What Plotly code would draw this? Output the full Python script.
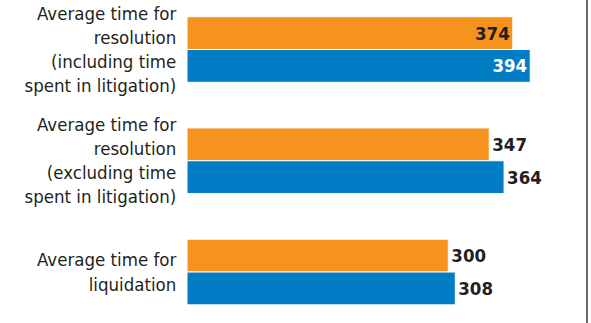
import plotly.graph_objects as go

categories = [
    "Average time for<br>resolution<br>(including time<br>spent in litigation)",
    "Average time for<br>resolution<br>(excluding time<br>spent in litigation)",
    "Average time for<br>liquidation",
]
series_a = [374, 347, 300]
series_b = [394, 364, 308]
text_pos_a = ["inside", "outside", "outside"]
text_pos_b = ["inside", "outside", "outside"]
text_col_a = ["#231f20", "#231f20", "#231f20"]
text_col_b = ["#ffffff", "#231f20", "#231f20"]

ORANGE = "#F6921E"
BLUE = "#007DC5"
LABEL_FONT = "DejaVu Sans Condensed, Roboto, sans-serif"

fig = go.Figure()
fig.add_trace(go.Bar(
    y=categories, x=series_a, orientation="h",
    marker=dict(color=ORANGE, line=dict(color="white", width=1)),
    text=[str(v) for v in series_a], textposition=text_pos_a,
    insidetextanchor="end", constraintext="none", cliponaxis=False,
    textfont=dict(family=LABEL_FONT, size=18.5, color=text_col_a, weight="bold"),
    name="A",
))
fig.add_trace(go.Bar(
    y=categories, x=series_b, orientation="h",
    marker=dict(color=BLUE, line=dict(color="white", width=1)),
    text=[str(v) for v in series_b], textposition=text_pos_b,
    insidetextanchor="end", constraintext="none", cliponaxis=False,
    textfont=dict(family=LABEL_FONT, size=18.5, color=text_col_b, weight="bold"),
    name="B",
))

fig.update_layout(
    width=591, height=323,
    margin=dict(l=187, r=0, t=0, b=0),
    barmode="group", bargap=0.41, bargroupgap=0,
    plot_bgcolor="white", paper_bgcolor="white",
    showlegend=False,
    xaxis=dict(range=[0, 463.8], visible=False),
    yaxis=dict(
        type="category",
        range=[2.458, -0.445],
        showgrid=False, zeroline=False, showline=False,
        ticks="outside", ticklen=6, tickcolor="rgba(0,0,0,0)",
        tickfont=dict(family=LABEL_FONT, size=18.5, color="#231f20"),
    ),
    shapes=[dict(type="line", xref="paper", yref="paper",
                 x0=(587 - 187) / 404, x1=(587 - 187) / 404, y0=0, y1=1,
                 line=dict(color="#3a3a3a", width=1.5))],
)

fig.write_html("out.html")
